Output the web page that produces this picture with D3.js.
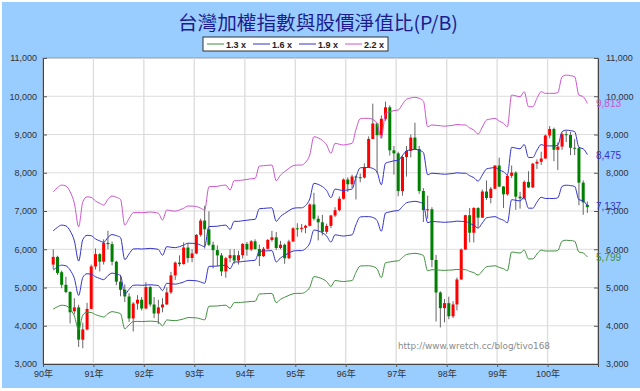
<!DOCTYPE html>
<html>
<head>
<meta charset="utf-8">
<script src="https://cdn.jsdelivr.net/npm/d3@7/dist/d3.min.js"></script>
<style>
  body { margin: 0; background: #fff; }
  svg { display: block; }
</style>
</head>
<body>
<svg id="chart"></svg>
<script>
// monthly candles, Mar 2001 (90年3月) .. Oct 2011 (100年10月)
const firstMonth = new Date(2001, 2, 1);

const open = [
  5600, 5800, 5400, 5070, 4883, 4380, 4480, 3636, 3903, 4441,
  5551, 5872, 5675, 6167, 6134, 5674, 5153, 4941, 4765, 4191, 4580, 4680,
  4452, 5012, 4556, 4321, 4480, 4556, 4872, 5318, 5650, 5611, 6045, 5771,
  5890, 6375, 6750, 6522, 6117, 5977, 5840, 5420, 5766, 5845, 5705, 5844,
  6140, 5994, 6207, 6006, 5819, 6012, 6242, 6312, 6033, 6118, 5764, 6203,
  6548, 6532, 6562, 6613, 7171, 6798, 6704, 6454, 6611, 6883, 7021, 7321,
  7823, 7699, 7901, 7884, 7875, 8145, 8883, 9287, 8982, 9411, 9711, 8586,
  8506, 7521, 8412, 8572, 8919, 8619, 7523, 7024, 7046, 5719, 4870, 4460,
  4591, 4248, 4557, 5210, 5992, 6890, 6432, 7078, 6826, 7509, 7340, 7582,
  8188, 7640, 7436, 7920, 8004, 7374, 7329, 7760, 7616, 8238, 8287, 8372,
  8973, 9145, 8600, 8683, 9008, 8988, 8653, 8644, 7741, 7160
];
const high = [
  6000, 5830, 5440, 5280, 4900, 4720, 4550, 4080, 4600, 5600,
  6020, 5900, 6260, 6484, 6200, 5700, 5330, 5080, 4850, 4620, 4800, 4750,
  5140, 5050, 4750, 4680, 4720, 5000, 5410, 5680, 5840, 6180, 6150, 6000,
  6400, 6800, 7135, 6990, 6200, 6100, 5900, 5800, 6000, 6000, 5960, 6160,
  6190, 6240, 6260, 6120, 6060, 6270, 6480, 6450, 6220, 6150, 6250, 6575,
  6680, 6660, 6640, 7200, 7476, 6880, 6900, 6670, 6900, 7100, 7380, 7850,
  7880, 7950, 7930, 7980, 8250, 8950, 9807, 9300, 9500, 9859, 9760, 8700,
  8550, 8450, 8700, 9000, 9309, 8700, 7600, 7400, 7100, 5850, 4900, 4700,
  4760, 4640, 5260, 6020, 6900, 7080, 7100, 7100, 7560, 7800, 7630, 8200,
  8395, 7650, 7960, 8190, 8040, 7500, 7800, 8040, 8260, 8350, 8550, 9000,
  9220, 9180, 8790, 9050, 9090, 9070, 8880, 8680, 7800, 7250
];
const low = [
  5480, 5330, 4980, 4850, 4060, 4300, 3446, 3411, 3880, 4430,
  5470, 5420, 5600, 6000, 5580, 5060, 4770, 4620, 4100, 3850, 4420, 4400,
  4430, 4500, 4200, 4044, 4350, 4550, 4830, 5200, 5550, 5600, 5650, 5660,
  5870, 6330, 6020, 6080, 5500, 5560, 5300, 5255, 5660, 5620, 5600, 5760,
  5830, 5950, 5990, 5560, 5800, 5990, 6200, 5980, 6000, 5620, 5740, 6190,
  6330, 6440, 6420, 6600, 6750, 6232, 6360, 6400, 6550, 6840, 6990, 7300,
  7500, 7600, 7300, 7750, 7850, 8130, 8880, 7987, 8900, 9360, 8450, 7950,
  7384, 7400, 7900, 8400, 8600, 7450, 6710, 6800, 5530, 4110, 3955, 4090,
  4170, 4200, 4400, 5200, 5990, 6180, 6180, 6580, 6820, 7290, 7200, 7570,
  7620, 7080, 7400, 7860, 7032, 7060, 7300, 7600, 7600, 8100, 8200, 8370,
  8900, 8300, 8070, 8600, 8800, 8460, 8460, 7150, 6900, 6950
];
const close = [
  5800, 5381, 5070, 4883, 4352, 4480, 3636, 3903, 4441, 5551,
  5872, 5675, 6167, 6134, 5674, 5153, 4941, 4765, 4191, 4580, 4680, 4452,
  5012, 4556, 4321, 4480, 4556, 4872, 5318, 5650, 5611, 6045, 5771, 5890,
  6375, 6750, 6522, 6117, 5977, 5840, 5420, 5766, 5845, 5705, 5844, 6140,
  5994, 6207, 6006, 5819, 6012, 6242, 6312, 6033, 6118, 5764, 6203, 6548,
  6532, 6562, 6613, 7171, 6798, 6704, 6454, 6611, 6883, 7021, 7321, 7823,
  7699, 7901, 7884, 7875, 8145, 8883, 9287, 8982, 9411, 9711, 8586, 8506,
  7521, 8412, 8572, 8919, 8619, 7523, 7024, 7046, 5719, 4870, 4460, 4591,
  4248, 4557, 5210, 5992, 6890, 6432, 7078, 6826, 7509, 7340, 7582, 8188,
  7640, 7436, 7920, 8004, 7374, 7329, 7760, 7616, 8238, 8287, 8372, 8973,
  9145, 8600, 8683, 9008, 8988, 8653, 8644, 7741, 7225, 7100
];

// book value per share behind the P/B bands
const bvps = [
  3411, 3460, 3490, 3479, 3411, 3273, 2995, 3290, 3350, 3344,
  3300, 3273, 3253, 3320, 3360, 3345, 3320, 3015, 3094, 3161, 3165, 3161,
  3165, 3170, 3165, 3155, 3075, 3194, 3185, 3180, 3194, 3214, 3241, 3240,
  3235, 3215, 3194, 3470, 3472, 3475, 3485, 3490, 3431, 3542, 3542, 3550,
  3557, 3565, 3569, 3716, 3720, 3725, 3728, 3542, 3609, 3650, 3689, 3720,
  3728, 3728, 3760, 3850, 4065, 4050, 4020, 3966, 3867, 3986, 3975, 3966,
  3975, 3986, 4150, 4278, 4283, 4283, 4270, 4220, 4045, 4342, 4360, 4375,
  4382, 4450, 4510, 4525, 4533, 4520, 4490, 4183, 4204, 4200, 4195, 4190,
  4195, 4200, 4210, 4205, 4204, 4170, 4144, 4096, 4180, 4263, 4275, 4283,
  4250, 4224, 4183, 4560, 4550, 4540, 4599, 4421, 4421, 4520, 4599, 4580,
  4580, 4580, 4590, 4777, 4797, 4790, 4777, 4560, 4540, 4460.5
];

const multiples = [1.3, 1.6, 1.9, 2.2];
const bandNames = ['1.3 x', '1.6 x', '1.9 x', '2.2 x'];
const bandColors = ['#3f8f3f', '#3333cc', '#3333cc', '#cc55cc'];

const yTicks = [3000, 4000, 5000, 6000, 7000, 8000, 9000, 10000, 11000];
const yearLabels = ['90年', '91年', '92年', '93年', '94年', '95年', '96年', '97年', '98年', '99年', '100年'];

const W = 640, H = 391;
const plot = { left: 43, right: 598, top: 58, bottom: 364 };

const svg = d3.select('#chart')
  .attr('width', W)
  .attr('height', H);

svg.append('rect')
  .attr('x', 2).attr('y', 2)
  .attr('width', W - 2).attr('height', H - 5)
  .attr('fill', '#99ccff');

const x = d3.scaleTime()
  .domain([new Date(2001, 0, 1), new Date(2012, 0, 1)])
  .range([plot.left, plot.right]);

const y = d3.scaleLinear()
  .domain([3000, 11000])
  .range([plot.bottom, plot.top]);

const candles = close.map(function(c, i) {
  const m = d3.timeMonth.offset(firstMonth, i);
  return {
    date: d3.timeDay.offset(m, 15),
    open: open[i], high: high[i], low: low[i], close: c
  };
});

// plot background + grid
svg.append('rect')
  .attr('x', plot.left).attr('y', plot.top)
  .attr('width', plot.right - plot.left).attr('height', plot.bottom - plot.top)
  .attr('fill', '#fff')
  .attr('stroke', '#999');

const yearTicks = d3.timeYear.range(new Date(2001, 0, 1), new Date(2012, 0, 1));

svg.append('g')
  .selectAll('line')
  .data(yTicks.slice(1, -1))
  .join('line')
    .attr('x1', plot.left).attr('x2', plot.right)
    .attr('y1', d => y(d)).attr('y2', d => y(d))
    .attr('stroke', '#dcdcdc');

svg.append('g')
  .selectAll('line')
  .data(yearTicks.slice(1))
  .join('line')
    .attr('x1', d => x(d)).attr('x2', d => x(d))
    .attr('y1', plot.top).attr('y2', plot.bottom)
    .attr('stroke', '#dcdcdc')
    .attr('stroke-width', 1.3);

// axes
const axisFont = '"Liberation Sans", Arial, sans-serif';

const yLeft = svg.append('g')
  .attr('transform', `translate(${plot.left},0)`)
  .call(d3.axisLeft(y).tickValues(yTicks).tickSize(-4).tickPadding(6).tickFormat(d3.format(',')));
const yRight = svg.append('g')
  .attr('transform', `translate(${plot.right},0)`)
  .call(d3.axisRight(y).tickValues(yTicks).tickSize(-4).tickPadding(8).tickFormat(d3.format(',')));
const xAxis = svg.append('g')
  .attr('transform', `translate(0,${plot.bottom})`)
  .call(d3.axisBottom(x).tickValues(yearTicks).tickSize(3).tickPadding(4)
    .tickFormat((d, i) => yearLabels[i]));

[yLeft, yRight, xAxis].forEach(function(g) {
  g.select('.domain').attr('stroke', '#444');
  g.selectAll('.tick line').attr('stroke', '#555');
  g.selectAll('text')
    .attr('fill', '#333')
    .attr('font-size', 9)
    .attr('font-family', axisFont);
});
xAxis.selectAll('text')
  .attr('font-family', '"Liberation Sans", "Noto Sans CJK TC", sans-serif');

// P/B bands
const bandLayer = svg.append('g');

// candles
const candleLayer = svg.append('g');

candleLayer.selectAll('line')
  .data(candles)
  .join('line')
    .attr('x1', d => x(d.date)).attr('x2', d => x(d.date))
    .attr('y1', d => y(d.high)).attr('y2', d => y(d.low))
    .attr('stroke', '#666')
    .attr('stroke-width', 1);

candleLayer.selectAll('rect')
  .data(candles)
  .join('rect')
    .attr('x', d => x(d.date) - 1.5)
    .attr('width', 3)
    .attr('y', d => y(Math.max(d.open, d.close)))
    .attr('height', d => Math.max(1, Math.abs(y(d.open) - y(d.close))))
    .attr('fill', d => d.close >= d.open ? '#ff0000' : '#008000');

const line = d3.line()
  .x(d => x(d.date))
  .y(d => y(d.value))
  .curve(d3.curveMonotoneX);

multiples.forEach(function(k, j) {
  const pts = candles.map((c, i) => ({ date: c.date, value: bvps[i] * k }));
  bandLayer.append('path')
    .datum(pts)
    .attr('d', line)
    .attr('fill', 'none')
    .attr('stroke', bandColors[j])
    .attr('stroke-width', 1);

  const last = pts[pts.length - 1];
  svg.append('text')
    .attr('x', 596)
    .attr('y', y(last.value) + 4)
    .attr('font-size', 10)
    .attr('font-family', axisFont)
    .attr('fill', bandColors[j])
    .text(d3.format(',.0f')(last.value));
});
bandLayer.raise();

// watermark
svg.append('text')
  .attr('x', 474).attr('y', 349)
  .attr('text-anchor', 'middle')
  .attr('font-size', 9)
  .attr('font-family', '"DejaVu Sans", sans-serif')
  .attr('fill', '#8a8a8a')
  .attr('textLength', 152)
  .attr('lengthAdjust', 'spacingAndGlyphs')
  .text('http://www.wretch.cc/blog/tivo168');

// title
svg.append('text')
  .attr('x', 318).attr('y', 30)
  .attr('text-anchor', 'middle')
  .attr('font-size', 19)
  .attr('font-family', '"Noto Sans CJK TC", sans-serif')
  .attr('fill', '#1c1c8c')
  .attr('textLength', 280)
  .attr('lengthAdjust', 'spacingAndGlyphs')
  .text('台灣加權指數與股價淨值比(P/B)');

// legend
const legend = svg.append('g').attr('transform', 'translate(203,37)');
legend.append('rect')
  .attr('width', 185).attr('height', 14)
  .attr('fill', '#fff')
  .attr('stroke', '#333');

const item = legend.selectAll('g.item')
  .data(bandNames)
  .join('g')
    .attr('class', 'item')
    .attr('transform', (d, i) => `translate(${4 + i * 46},7)`);
item.append('line')
  .attr('x1', 0).attr('x2', 17)
  .attr('stroke', (d, i) => bandColors[i]);
item.append('text')
  .attr('x', 19).attr('y', 3.5)
  .attr('font-size', 9)
  .attr('font-weight', 'bold')
  .attr('font-family', axisFont)
  .attr('fill', '#222')
  .text(d => d);
</script>
</body>
</html>
